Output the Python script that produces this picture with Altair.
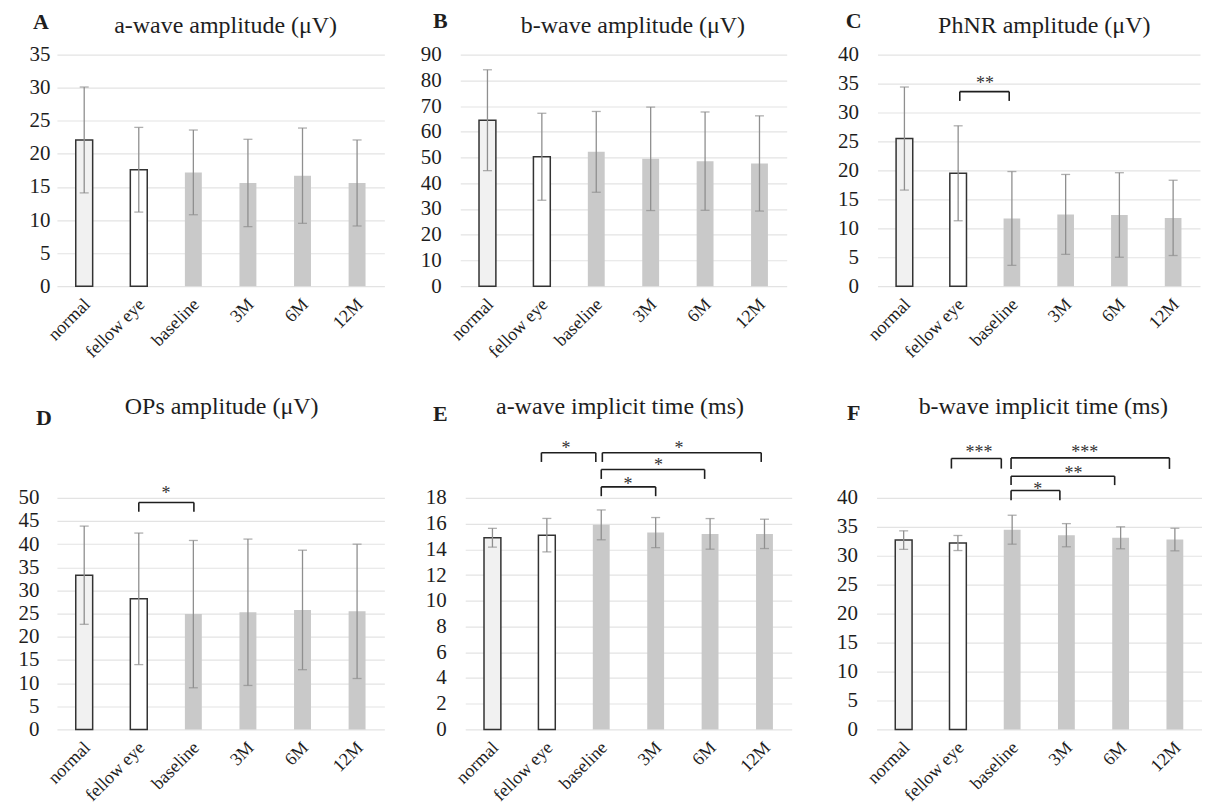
import altair as alt
import pandas as pd

categories = ["normal", "fellow eye", "baseline", "3M", "6M", "12M"]
groups = ["normal", "fellow", "treated", "treated", "treated", "treated"]

# mean and SD
a_amp_mean = [22.1, 17.6, 17.2, 15.6, 16.7, 15.6]
a_amp_sd = [8.0, 6.4, 6.4, 6.6, 7.2, 6.5]
b_amp_mean = [64.5, 50.3, 52.2, 49.5, 48.6, 47.7]
b_amp_sd = [19.6, 16.9, 15.7, 20.1, 19.1, 18.5]
phnr_mean = [25.5, 19.5, 11.7, 12.4, 12.3, 11.8]
phnr_sd = [8.9, 8.2, 8.1, 6.9, 7.3, 6.5]
ops_mean = [33.3, 28.2, 24.9, 25.3, 25.8, 25.5]
ops_sd = [10.6, 14.2, 15.9, 15.8, 12.9, 14.5]
a_it_mean = [14.9, 15.1, 15.9, 15.3, 15.2, 15.2]
a_it_sd = [0.73, 1.3, 1.16, 1.17, 1.19, 1.14]
b_it_mean = [32.7, 32.2, 34.5, 33.55, 33.1, 32.8]
b_it_sd = [1.6, 1.3, 2.5, 2.0, 1.9, 1.95]

# significance brackets: x1, x2 (category index units), top, leg bottom, label, label x, label y
c_brackets = [(1.53, 2.45, 33.6, 32.0, "**", 2.0, 35.7)]
d_brackets = [(1.50, 2.51, 49.0, 47.0, "*", 2.0, 52.0)]
e_brackets = [
    (1.40, 2.40, 21.51, 20.79, "*", 1.85, 22.2),
    (2.52, 5.44, 21.51, 20.79, "*", 3.93, 22.2),
    (2.50, 4.40, 20.2, 19.47, "*", 3.55, 20.84),
    (2.50, 3.50, 18.85, 18.13, "*", 2.99, 19.42),
]
f_brackets = [
    (1.38, 2.30, 46.8, 45.06, "***", 1.89, 48.6),
    (2.48, 5.40, 46.9, 45.0, "***", 3.84, 48.6),
    (2.48, 4.39, 43.74, 42.2, "**", 3.63, 44.9),
    (2.48, 3.38, 41.27, 39.6, "*", 2.97, 42.3),
]

FONT = "Liberation Serif"
TXT = "#1e1e1e"

panels = [
    dict(letter="A", title="a-wave amplitude (μV)", mean=a_amp_mean, sd=a_amp_sd,
         ticks=list(range(0, 36, 5)), dmax=35, H=232, W=328, L=49, lx=-16, ly=-33, tx=169,
         lpad=7, br=[], bottom=True),
    dict(letter="B", title="b-wave amplitude (μV)", mean=b_amp_mean, sd=b_amp_sd,
         ticks=list(range(0, 91, 10)), dmax=90, H=232, W=327, L=76, lx=-20, ly=-34, tx=173,
         lpad=19, br=[], bottom=True),
    dict(letter="C", title="PhNR amplitude (μV)", mean=phnr_mean, sd=phnr_sd,
         ticks=list(range(0, 41, 5)), dmax=40, H=232, W=323, L=91, lx=-24, ly=-34, tx=167,
         lpad=19, br=c_brackets, bottom=True),
    dict(letter="D", title="OPs amplitude (μV)", mean=ops_mean, sd=ops_sd,
         ticks=list(range(0, 51, 5)), dmax=50 * 294 / 232, H=294, W=328, L=45, lx=-13, ly=-18, tx=165,
         lpad=18, br=d_brackets, bottom=False),
    dict(letter="E", title="a-wave implicit time (ms)", mean=a_it_mean, sd=a_it_sd,
         ticks=list(range(0, 19, 2)), dmax=18 * 294 / 232, H=294, W=327, L=81, lx=-25, ly=-22, tx=155,
         lpad=19, br=e_brackets, bottom=False),
    dict(letter="F", title="b-wave implicit time (ms)", mean=b_it_mean, sd=b_it_sd,
         ticks=list(range(0, 41, 5)), dmax=40 * 294 / 232, H=294, W=326, L=85, lx=-23, ly=-23, tx=167,
         lpad=19, br=f_brackets, bottom=False),
]

xscale = alt.Scale(paddingInner=0.69, paddingOuter=0.345)


def make_panel(p):
    df = pd.DataFrame({"cat": categories, "group": groups, "mean": p["mean"], "sd": p["sd"]})
    df["lo"] = df["mean"] - df["sd"]
    df["hi"] = df["mean"] + df["sd"]
    yscale = alt.Scale(domain=[0, p["dmax"]], nice=False, zero=True)
    yaxis = alt.Axis(values=p["ticks"], tickCount=len(p["ticks"]) + 5, grid=True,
                     gridColor="#e3e3e3", gridWidth=1.2,
                     domain=False, ticks=False, labelFontSize=21, labelPadding=p["lpad"],
                     labelColor=TXT, labelFont=FONT, labelOverlap=False)
    xaxis = alt.Axis(labelAngle=-45, labelFontSize=18, labelColor=TXT, labelFont=FONT,
                     domain=False, ticks=False, grid=False, labelPadding=9, labelOffset=-3,
                     labelOverlap=False)
    base = alt.Chart(df)
    bars = base.mark_bar().encode(
        x=alt.X("cat:N", sort=categories, scale=xscale, axis=xaxis, title=None),
        y=alt.Y("mean:Q", scale=yscale, axis=yaxis, title=None),
        fill=alt.Fill("group:N", legend=None,
                      scale=alt.Scale(domain=["normal", "fellow", "treated"],
                                      range=["#f1f1f1", "#ffffff", "#c9c9c9"])),
        stroke=alt.condition(alt.datum.group == "treated", alt.value("#c9c9c9"), alt.value("#333333")),
        strokeWidth=alt.condition(alt.datum.group == "treated", alt.value(0), alt.value(1.5)),
    )
    xe = alt.X("cat:N", sort=categories, title=None)
    err = base.mark_rule(color="#8f8f8f", strokeWidth=1.3).encode(
        x=xe, y=alt.Y("lo:Q", title=None), y2="hi:Q")
    cap_hi = base.mark_tick(color="#8f8f8f", thickness=1.3, size=9).encode(
        x=xe, y=alt.Y("hi:Q", title=None))
    cap_lo = base.mark_tick(color="#8f8f8f", thickness=1.3, size=9).encode(
        x=xe, y=alt.Y("lo:Q", title=None))
    main = alt.layer(bars, err, cap_hi, cap_lo)

    ann = []
    tdf = pd.DataFrame({"t": [p["title"]], "l": [p["letter"]]})
    ann.append(alt.Chart(tdf).mark_text(font=FONT, fontSize=24, color=TXT, align="center",
                                        baseline="middle").encode(
        x=alt.value(p["tx"]), y=alt.value(-29), text="t:N"))
    ann.append(alt.Chart(tdf).mark_text(font=FONT, fontSize=22, fontWeight="bold", color=TXT,
                                        align="center", baseline="middle").encode(
        x=alt.value(p["lx"]), y=alt.value(p["ly"]), text="l:N"))
    ybot = 0 if not p["bottom"] else p["H"] + 100
    ann.append(alt.Chart(pd.DataFrame({"d": [0]})).mark_rule(opacity=0, strokeOpacity=0).encode(
        x=alt.value(-p["L"]), x2=alt.value(0), y=alt.value(-46), y2=alt.value(ybot)))
    if p["br"]:
        bdf = pd.DataFrame(p["br"], columns=["x1", "x2", "top", "bot", "txt", "sx", "sy"])
        qx = alt.Scale(domain=[0, 6], nice=False, zero=False)
        bb = alt.Chart(bdf)
        ann.append(bb.mark_rule(color="#1e1e1e", strokeWidth=1.6).encode(
            x=alt.X("x1:Q", scale=qx, axis=None), x2="x2:Q", y=alt.Y("top:Q", title=None)))
        ann.append(bb.mark_rule(color="#1e1e1e", strokeWidth=1.6).encode(
            x=alt.X("x1:Q", scale=qx, axis=None), y=alt.Y("bot:Q", title=None), y2="top:Q"))
        ann.append(bb.mark_rule(color="#1e1e1e", strokeWidth=1.6).encode(
            x=alt.X("x2:Q", scale=qx, axis=None), y=alt.Y("bot:Q", title=None), y2="top:Q"))
        ann.append(bb.mark_text(font=FONT, fontSize=18, color="#333333", baseline="alphabetic",
                                dy=10).encode(
            x=alt.X("sx:Q", scale=qx, axis=None), y=alt.Y("sy:Q", title=None), text="txt:N"))
    chart = alt.layer(main, *ann).resolve_scale(x="independent").properties(
        width=p["W"], height=p["H"])
    return chart


charts = [make_panel(p) for p in panels]
top = alt.hconcat(*charts[:3], spacing=0)
bottom = alt.hconcat(*charts[3:], spacing=0)
chart = alt.vconcat(top, bottom, spacing=4).properties(
    padding={"left": 0, "top": 0, "right": 0, "bottom": 0}
).configure(font=FONT).configure_view(stroke=None, strokeWidth=0)

chart.save("out.html", embed_options={"renderer": "svg", "actions": False})
